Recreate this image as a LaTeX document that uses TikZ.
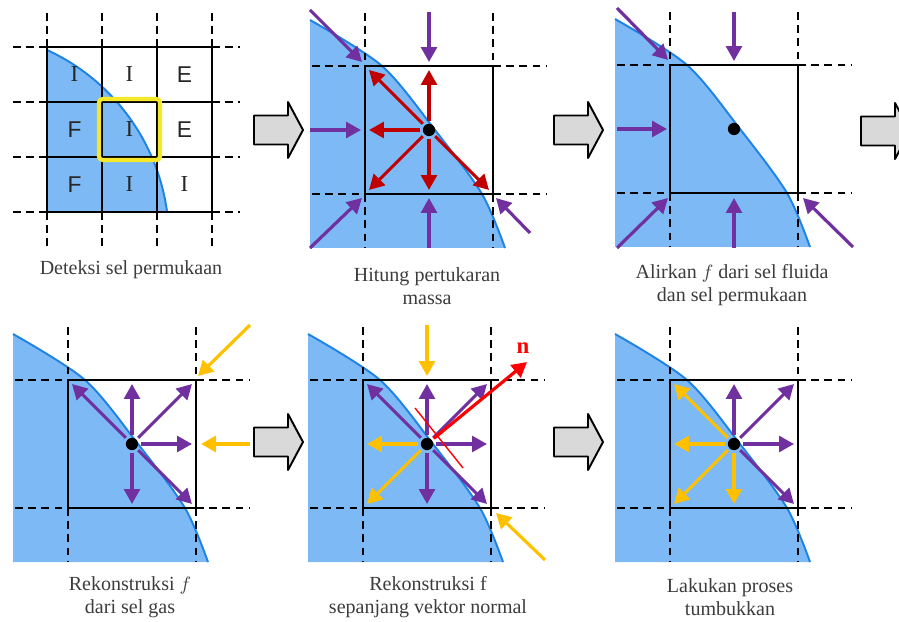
\documentclass[tikz,border=0pt]{standalone}
\usepackage{fontspec}
\setmainfont{Liberation Serif}
\setsansfont{Liberation Sans}
\usetikzlibrary{arrows.meta}
\definecolor{biru}{RGB}{125,185,245}
\definecolor{birugaris}{RGB}{30,130,230}
\definecolor{ungu}{RGB}{112,48,160}
\definecolor{merah}{RGB}{192,0,0}
\definecolor{kuning}{RGB}{255,192,0}
\definecolor{stabilo}{RGB}{245,232,40}
\definecolor{teks}{RGB}{60,60,60}
\begin{document}
\begin{tikzpicture}[x=0.2mm,y=-0.2mm,
  garis/.style={line width=1.2pt},
  putus/.style={line width=1.2pt,dash pattern=on 4.5pt off 3pt},
  vek/.style={line width=1.8pt,-{Triangle[length=8.5pt,width=9pt]}},
  vungu/.style={vek,ungu},
  vmerah/.style={vek,merah},
  vkuning/.style={vek,kuning},
  titik/.style={circle,fill=black,inner sep=0pt,minimum size=7pt,outer sep=1.5pt},
  panah/.style={draw=black,line width=1.1pt,fill=black!15,line join=round},
  huruf/.style={text=black!85,font=\fontsize{13}{13}\sffamily},
  ket/.style={text=teks,font=\fontsize{11.4}{13}\selectfont,align=center}]
  \useasboundingbox (0,0) rectangle (899,622);
  % 第一幅：网格与界面
  \fill[biru] plot[domain=-65.4:-7.7,samples=40] ({-40+209*cos(\x)},{240+209*sin(\x)}) -- (47,212) -- cycle;
  \draw[birugaris,line width=1.1pt] plot[domain=-65.4:-7.7,samples=40] ({-40+209*cos(\x)},{240+209*sin(\x)});
  \foreach \i in {47,102,157,212} {
    \draw[garis] (\i,47) -- (\i,212);
    \draw[garis] (47,\i) -- (212,\i);
    \draw[putus] (\i,13) -- (\i,47);
    \draw[putus] (\i,212) -- (\i,247);
    \draw[putus] (13,\i) -- (47,\i);
    \draw[putus] (212,\i) -- (240,\i);
  }
  \draw[stabilo,line width=2.3pt,rounded corners=2pt] (99,99) rectangle (160,160);
  \foreach \t/\c/\r in {{\rmfamily I}/0/0,{\rmfamily I}/1/0,E/2/0,F/0/1,{\rmfamily I}/1/1,E/2/1,F/0/2,{\rmfamily I}/1/2,{\rmfamily I}/2/2}
    \node[huruf] (h\c\r) at ({74.5+55*\c},{74.5+55*\r}) {\t};
  \node[ket] (k1) at (131,270) {Deteksi sel permukaan};
  % 其余五幅：单个格子
  \foreach \p/\ox/\oy in {2/365/66,3/670/65,4/68/380,5/363/380,6/670/380} {
    \begin{scope}[shift={(\ox,\oy)}]
      \fill[biru] plot[smooth] coordinates {(-55,-46) (17,0) (70,64) (117,128) (140,182)} -- (-55,182) -- cycle;
      \draw[birugaris,line width=1.1pt] plot[smooth] coordinates {(-55,-46) (17,0) (70,64) (117,128) (140,182)};
      \draw[garis] (0,0) rectangle (128,128);
      \foreach \i in {0,128} {
        \draw[putus] (\i,-53) -- (\i,0);
        \draw[putus] (\i,128) -- (\i,182);
        \draw[putus] (-53,\i) -- (0,\i);
        \draw[putus] (128,\i) -- (181,\i);
      }
      \node[titik] (d\p) at (64,64) {};
      \foreach \n/\x/\y in {nw/4/4,n/64/4,ne/124/4,e/124/64,se/124/124,s/64/124,sw/4/124,w/4/64}
        \coordinate (\n\p) at (\x,\y);
    \end{scope}
  }
  % 第二幅：质量交换
  \foreach \n in {n,nw,w,sw,s,se} \draw[vmerah] (d2) -- (\n2);
  \begin{scope}[shift={(365,66)}]
    \draw[vungu] (64,-54) -- (64,-4);
    \draw[vungu] (-55,-56) -- (-3,-4);
    \draw[vungu] (-55,64) -- (-4,64);
    \draw[vungu] (-55,182) -- (-3,132);
    \draw[vungu] (64,182) -- (64,132);
    \draw[vungu] (165,167) -- (131,132);
  \end{scope}
  \node[ket] (k2) at (427,286.5) {Hitung pertukaran\\massa};
  % 第三幅：流入
  \begin{scope}[shift={(670,65)}]
    \draw[vungu] (64,-53) -- (64,-4);
    \draw[vungu] (-53,-57) -- (-2,-5);
    \draw[vungu] (-53,64) -- (-3,64);
    \draw[vungu] (-53,183) -- (-2,133);
    \draw[vungu] (64,183) -- (64,133);
    \draw[vungu] (183,182) -- (133,133);
  \end{scope}
  \node[ket] (k3) at (732,285) {Alirkan $f$ dari sel fluida\\dan sel permukaan};
  % 第四幅：气体格子重构
  \foreach \n in {nw,n,ne,e,se,s} \draw[vungu] (d4) -- (\n4);
  \begin{scope}[shift={(68,380)}]
    \draw[vkuning] (182,-55) -- (130,-4);
    \draw[vkuning] (182,64) -- (133,64);
  \end{scope}
  \node[ket] (k4) at (130,597) {Rekonstruksi $f$\\dari sel gas};
  % 第五幅：沿法向量重构
  \foreach \n in {nw,n,ne,e,se,s} \draw[vungu] (d5) -- (\n5);
  \foreach \n in {w,sw} \draw[vkuning] (d5) -- (\n5);
  \begin{scope}[shift={(363,380)}]
    \draw[vkuning] (64,-55) -- (64,-4);
    \draw[vkuning] (182,180) -- (133,133);
    \draw[red,line width=0.8pt] (52,28) -- (100,88);
    \coordinate (ujung) at (164,-18);
    \node[red,font=\bfseries\fontsize{13}{13}\selectfont] (nn) at (160,-32) {n};
  \end{scope}
  \draw[vek,red] (d5) -- (ujung);
  \node[ket] (k5) at (428,597) {Rekonstruksi f\\sepanjang vektor normal};
  % 第六幅：碰撞
  \foreach \n in {n,ne,e,se} \draw[vungu] (d6) -- (\n6);
  \foreach \n in {nw,w,sw,s} \draw[vkuning] (d6) -- (\n6);
  \node[ket] (k6) at (730,597) {Lakukan proses\\tumbukkan};
  % 灰色箭头
  \foreach \ax/\ay in {254/130,554/130,861/131,254/442,554/442}
    \draw[panah] (\ax,\ay) ++(0,-14.5) -- ++(34,0) -- ++(0,-13.5) -- ++(15,28) -- ++(-15,28) -- ++(0,-13.5) -- ++(-34,0) -- cycle;
\end{tikzpicture}
\end{document}
